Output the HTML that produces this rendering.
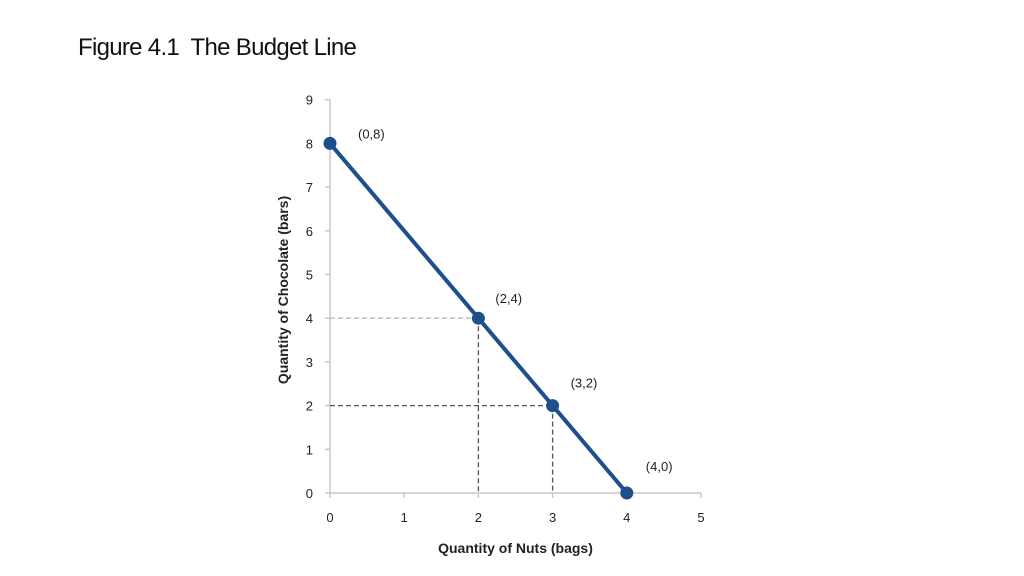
<!DOCTYPE html>
<html><head><meta charset="utf-8"><style>
body{margin:0;background:#fff;width:1024px;height:576px;overflow:hidden;font-family:"Liberation Sans",sans-serif}
#title{position:absolute;left:78px;top:34px;font-size:24px;color:#111;letter-spacing:-0.7px}
</style></head><body>
<div id="title">Figure 4.1&nbsp; The Budget Line</div>
<svg id="chart" width="1024" height="576" style="position:absolute;left:0;top:0"></svg>
<script>
const xTicks=[0,1,2,3,4,5];
const yTicks=[0,1,2,3,4,5,6,7,8,9];
const pointsX=[0,2,3,4];
const pointsY=[8,4,2,0];
const pointLabels=["(0,8)","(2,4)","(3,2)","(4,0)"];
const dashedX=[2,3];
const dashedY=[4,2];
const labelDx=[28,17,18,19], labelDy=[-5,-15,-18,-22];
const NS="http://www.w3.org/2000/svg";
const svg=document.getElementById('chart');
const X=v=>330+v*74.2, Y=v=>493-v*43.7;
function mk(t,a,p){const e=document.createElementNS(NS,t);for(const k in a)e.setAttribute(k,a[k]);(p||svg).appendChild(e);return e;}
let e;
e=mk('line',{x1:X(0),y1:Y(0),x2:X(5),y2:Y(0),stroke:'#c8c8c8','stroke-width':1.5});


e=mk('line',{x1:X(0),y1:Y(0),x2:X(0),y2:Y(9),stroke:'#c8c8c8','stroke-width':1.5});


xTicks.forEach(v=>{
 mk('line',{x1:X(v),y1:Y(0),x2:X(v),y2:Y(0)+5,stroke:'#c8c8c8','stroke-width':1.5});
 e=mk('text',{x:X(v),y:522,'text-anchor':'middle','font-size':13,fill:'#222'});e.textContent=v;
 
 
});
yTicks.forEach(v=>{
 mk('line',{x1:X(0)-5,y1:Y(v),x2:X(0),y2:Y(v),stroke:'#c8c8c8','stroke-width':1.5});
 e=mk('text',{x:313,y:Y(v)+5,'text-anchor':'end','font-size':13,fill:'#222'});e.textContent=v;
 
 
});
dashedY.forEach((v,i)=>{
 e=mk('line',{x1:X(0),y1:Y(v),x2:X(dashedX[i]),y2:Y(v),stroke:i==0?'#bbb':'#555','stroke-width':1.3,'stroke-dasharray':'5,3'});
 
 
 e=mk('line',{x1:X(dashedX[i]),y1:Y(v),x2:X(dashedX[i]),y2:Y(0),stroke:'#555','stroke-width':1.3,'stroke-dasharray':'5,3'});
 
 
});
e=mk('polyline',{points:pointsX.map((x,i)=>X(x)+','+Y(pointsY[i])).join(' '),fill:'none',stroke:'#1f4e8c','stroke-width':4});


pointsX.forEach((x,i)=>{
 e=mk('circle',{cx:X(x),cy:Y(pointsY[i]),r:6.5,fill:'#1f4e8c'});
 
 
 e=mk('text',{x:X(x)+labelDx[i],y:Y(pointsY[i])+labelDy[i],'font-size':13,fill:'#222'});e.textContent=pointLabels[i];
 
 
});
e=mk('text',{x:X(2.5),y:553,'text-anchor':'middle','font-size':14,'font-weight':'bold',fill:'#222'});e.textContent='Quantity of Nuts (bags)';


e=mk('text',{x:0,y:0,'text-anchor':'middle','font-size':14,'font-weight':'bold',fill:'#222',transform:'translate(288,290) rotate(-90)'});e.textContent='Quantity of Chocolate (bars)';


</script>
</body></html>
